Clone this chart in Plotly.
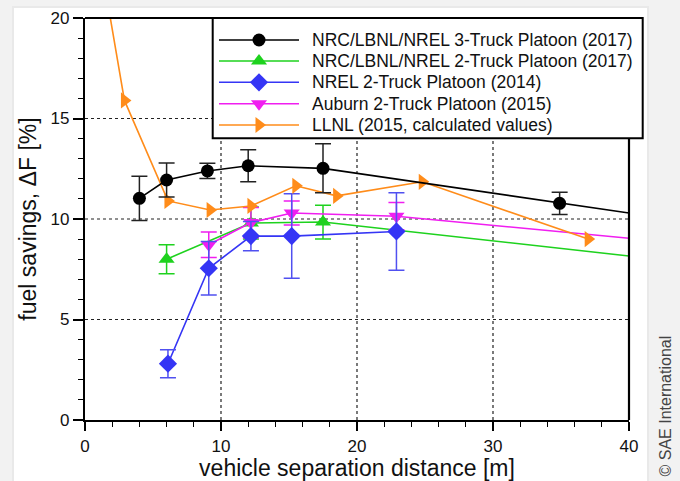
import plotly.graph_objects as go

# ---- data: fuel savings vs. vehicle separation distance ----
nrc3_x = [4.0, 6.0, 9.0, 12.0, 17.5, 34.9]
nrc3_y = [11.03, 11.94, 12.39, 12.65, 12.52, 10.78]
nrc3_err = [1.1, 0.85, 0.38, 0.8, 1.22, 0.55]
nrc3_trend_end = [40.0, 10.3]

nrc2_x = [6.0, 12.2, 17.5]
nrc2_y = [8.0, 9.8, 9.85]
nrc2_err = [0.72, 0.8, 0.84]
nrc2_trend_end = [40.0, 8.16]

nrel_x = [6.1, 9.1, 12.2, 15.2, 22.9]
nrel_y = [2.8, 7.55, 9.15, 9.15, 9.38]
nrel_err = [0.7, 1.33, 0.73, 2.1, 1.93]

auburn_x = [9.1, 12.2, 15.2, 22.9]
auburn_y = [8.72, 9.82, 10.3, 10.14]
auburn_err = [0.63, 0.75, 0.6, 0.68]
auburn_trend_end = [40.0, 9.04]

llnl_x = [1.0, 2.9, 6.1, 9.2, 12.2, 15.5, 18.5, 24.8, 37.0]
llnl_y = [23.4, 15.9, 10.9, 10.45, 10.65, 11.65, 11.15, 11.85, 9.0]

x_ticks = [0, 10, 20, 30, 40]
y_ticks = [0, 5, 10, 15, 20]

series_names = [
    "NRC/LBNL/NREL 3-Truck Platoon (2017)",
    "NRC/LBNL/NREL 2-Truck Platoon (2017)",
    "NREL 2-Truck Platoon (2014)",
    "Auburn 2-Truck Platoon (2015)",
    "LLNL (2015, calculated values)",
]

# ---- styles ----
BLACK = "#000000"
GREEN = "#1ed21e"
BLUE = "#3535f5"
MAGENTA = "#f01ef0"
ORANGE = "#ff8c1a"
FONT = "Arial, Liberation Sans, sans-serif"

X_MAX, Y_MAX = 40, 20
L, R, T, B = 85, 51, 18, 61
W, H = 680, 481
PW, PH = W - L - R, H - T - B


def px_x(p):
    return (p - L) / PW


def px_y(p):
    return (H - B - p) / PH


fig = go.Figure()


def add_series(x, y, err, color, symbol, size, name, err_color=None, trend=None):
    # connecting line (optionally carried on to the right edge)
    lx, ly = list(x), list(y)
    if trend is not None:
        lx.append(trend[0])
        ly.append(trend[1])
    fig.add_trace(go.Scatter(
        x=lx, y=ly, mode="lines", line=dict(color=color, width=1.6),
        showlegend=False, hoverinfo="skip"))
    fig.add_trace(go.Scatter(
        x=x, y=y, mode="markers", name=name, showlegend=False,
        marker=dict(color=color, symbol=symbol, size=size, line=dict(width=0)),
        error_y=None if err is None else dict(
            type="data", array=err, visible=True,
            color=err_color or color, thickness=1.5, width=8)))


add_series(nrc2_x, nrc2_y, nrc2_err, GREEN, "triangle-up", 14, series_names[1], trend=nrc2_trend_end)
add_series(auburn_x, auburn_y, auburn_err, MAGENTA, "triangle-down", 14, series_names[3], trend=auburn_trend_end)
add_series(nrel_x, nrel_y, nrel_err, BLUE, "diamond", 14, series_names[2], err_color="#5050f0")
add_series(llnl_x, llnl_y, None, ORANGE, "triangle-right", 14, series_names[4])
add_series(nrc3_x, nrc3_y, nrc3_err, BLACK, "circle", 13, series_names[0], err_color="#222222", trend=nrc3_trend_end)

# ---- custom legend drawn on an overlay axis in [0,1] plot coordinates ----
legend_rows_px = [40, 61, 82.3, 103.7, 125]
legend_styles = [
    (BLACK, "circle", 13),
    (GREEN, "triangle-up", 14),
    (BLUE, "diamond", 14),
    (MAGENTA, "triangle-down", 14),
    (ORANGE, "triangle-right", 14),
]
lx0, lx1, lxm = px_x(219), px_x(299), px_x(259)
for (col, sym, sz), row, name in zip(legend_styles, legend_rows_px, series_names):
    ry = px_y(row)
    fig.add_trace(go.Scatter(
        x=[lx0, lx1], y=[ry, ry], xaxis="x2", yaxis="y2", mode="lines",
        line=dict(color=col, width=1.6), showlegend=False, hoverinfo="skip",
        cliponaxis=False))
    fig.add_trace(go.Scatter(
        x=[lxm], y=[ry], xaxis="x2", yaxis="y2", mode="markers",
        marker=dict(color=col, symbol=sym, size=sz, line=dict(width=0)),
        showlegend=False, hoverinfo="skip", cliponaxis=False))

annotations = []
for row, name in zip(legend_rows_px, series_names):
    annotations.append(dict(
        x=px_x(310), y=px_y(row), xref="paper", yref="paper", text=name,
        showarrow=False, xanchor="left", yanchor="middle",
        font=dict(family=FONT, size=17.5, color="#111111")))

annotations.append(dict(
    x=px_x(665), y=px_y(479), xref="paper", yref="paper",
    text="© SAE International", textangle=-90, showarrow=False,
    xanchor="center", yanchor="bottom",
    font=dict(family=FONT, size=16, color="#444444")))

# ---- shapes: card, grid, legend box, frame ----
shapes = []
# card shadow and white card
shapes.append(dict(type="rect", xref="paper", yref="paper",
                   x0=px_x(12), x1=px_x(649), y0=px_y(H + 5), y1=px_y(6),
                   fillcolor="#e9e9e9", line=dict(width=0), layer="below"))
shapes.append(dict(type="rect", xref="paper", yref="paper",
                   x0=px_x(14), x1=px_x(647), y0=px_y(H + 5), y1=px_y(8),
                   fillcolor="#ffffff", line=dict(width=0), layer="below"))
# dotted grid
for v in x_ticks[1:-1]:
    shapes.append(dict(type="line", xref="paper", yref="paper",
                       x0=v / X_MAX, x1=v / X_MAX, y0=0, y1=1,
                       line=dict(color="#222222", width=1.2, dash="dot"), layer="below"))
for v in y_ticks[1:-1]:
    shapes.append(dict(type="line", xref="paper", yref="paper",
                       x0=0, x1=1, y0=v / Y_MAX, y1=v / Y_MAX,
                       line=dict(color="#222222", width=1.2, dash="dot"), layer="below"))
# legend box
leg_bottom = px_y(138.3)
shapes.append(dict(type="rect", xref="paper", yref="paper",
                   x0=px_x(212.7), x1=px_x(642.7), y0=leg_bottom, y1=1,
                   fillcolor="#ffffff", line=dict(color="#000000", width=2), layer="below"))
# top and right frame (right side stops at the legend box)
shapes.append(dict(type="line", xref="paper", yref="paper", x0=0, x1=1, y0=1, y1=1,
                   line=dict(color="#000000", width=2.2), layer="above"))
shapes.append(dict(type="line", xref="paper", yref="paper", x0=1, x1=1, y0=0, y1=leg_bottom,
                   line=dict(color="#000000", width=2.2), layer="above"))

fig.update_layout(
    width=W, height=H,
    margin=dict(l=L, r=R, t=T, b=B, pad=0),
    paper_bgcolor="#f2f2f2",
    plot_bgcolor="rgba(0,0,0,0)",
    showlegend=False,
    font=dict(family=FONT, color="#111111"),
    shapes=shapes,
    annotations=annotations,
    xaxis=dict(
        range=[0, X_MAX], tickvals=x_ticks, showgrid=False, zeroline=False,
        automargin=False,
        showline=True, linecolor="#000000", linewidth=2.2,
        ticks="outside", ticklen=9, tickwidth=1.5, tickcolor="#000000",
        minor=dict(dtick=2, ticks="outside", ticklen=5, tickwidth=1.2, tickcolor="#000000", showgrid=False),
        tickfont=dict(size=17, family=FONT, color="#111111"),
        title=dict(text="vehicle separation distance [m]", standoff=4,
                   font=dict(size=23, family=FONT, color="#111111")),
    ),
    yaxis=dict(
        range=[0, Y_MAX], tickvals=y_ticks, showgrid=False, zeroline=False,
        automargin=False,
        showline=True, linecolor="#000000", linewidth=2.2,
        ticks="outside", ticklen=10, tickwidth=1.5, tickcolor="#000000",
        minor=dict(dtick=1, ticks="outside", ticklen=5, tickwidth=1.2, tickcolor="#000000", showgrid=False),
        tickfont=dict(size=17, family=FONT, color="#111111"),
        title=dict(text="fuel savings, ΔF [%]", standoff=8,
                   font=dict(size=23, family=FONT, color="#111111")),
    ),
    xaxis2=dict(overlaying="x", range=[0, 1], visible=False, fixedrange=True),
    yaxis2=dict(overlaying="y", range=[0, 1], visible=False, fixedrange=True),
)

fig.write_html("out.html")
